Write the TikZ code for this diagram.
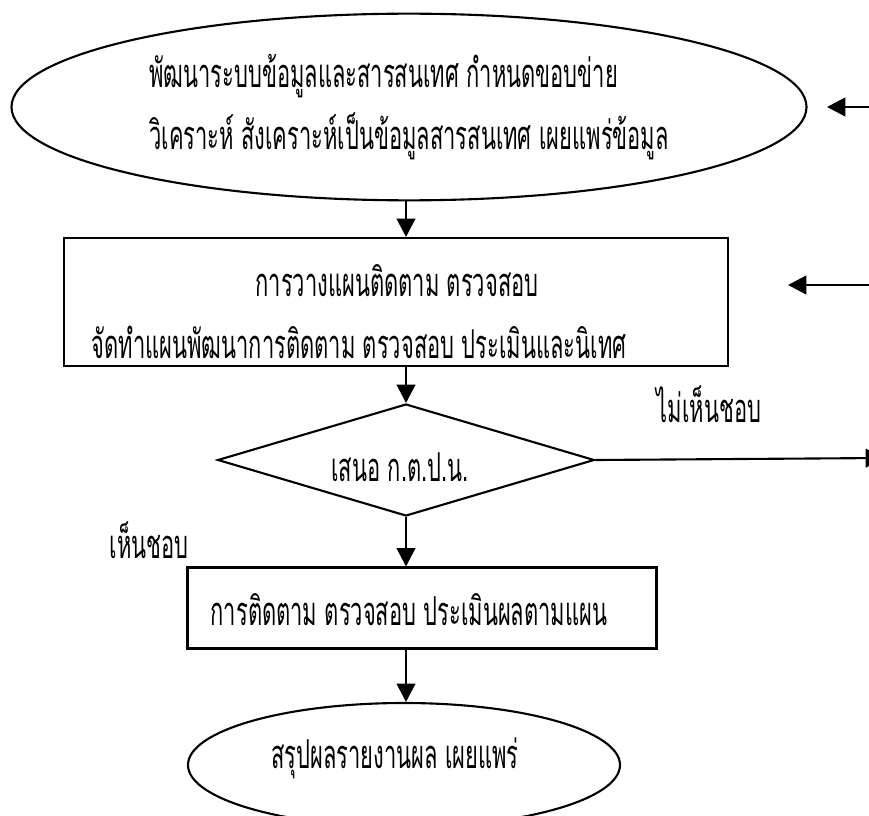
\documentclass[tikz,border=0pt]{standalone}
\usepackage{fontspec}
\newfontfamily\thaifont[Script=Thai,FakeStretch=0.55]{Loma}
\usetikzlibrary{shapes.geometric,arrows.meta}

\tikzset{
  flowline/.style={line width=1.8pt},
  flowarrow/.style={flowline,-{Triangle[length=5.5mm,width=5.6mm]}},
  thaitext/.style={font=\thaifont\fontsize{34}{53}\selectfont},
  terminal/.style={ellipse,draw,flowline,inner sep=0pt,thaitext},
  process/.style={rectangle,draw,flowline,inner sep=0pt,thaitext},
  decision/.style={diamond,draw,flowline,inner sep=0pt,aspect=3.36,thaitext}
}

\begin{document}
\begin{tikzpicture}[x=0.03cm,y=-0.03cm]
\useasboundingbox (0,0) rectangle (869,816);
\clip (0,0) rectangle (869,816);

% shapes
\node[terminal,minimum width=23.85cm,minimum height=5.6cm,align=left] (develop) at (409,107)
  {พัฒนาระบบข้อมูลและสารสนเทศ  กำหนดขอบข่าย\\วิเคราะห์ สังเคราะห์เป็นข้อมูลสารสนเทศ เผยแพร่ข้อมูล};
\node[process,minimum width=19.9cm,minimum height=3.84cm] (plan) at (396,302) {};
\node[thaitext] (plantitle) at (397,281) {การวางแผนติดตาม ตรวจสอบ};
\node[thaitext] (plantask) at (359,342) {จัดทำแผนพัฒนาการติดตาม ตรวจสอบ ประเมินและนิเทศ};
\node[decision,minimum width=11.3cm,minimum height=3.36cm] (propose) at (406,460) {};
\node[thaitext] (proposetext) at (400,467) {เสนอ ก.ต.ป.น.};
\node[process,minimum width=14.07cm,minimum height=2.43cm] (monitor) at (422,608) {};
\node[thaitext] (monitortext) at (409,610) {การติดตาม ตรวจสอบ ประเมินผลตามแผน};
\node[terminal,minimum width=12.96cm,minimum height=3.72cm] (report) at (404,765) {};
\node[thaitext] (reporttext) at (395,758) {สรุปผลรายงานผล เผยแพร่};

% labels
\node[thaitext] (reject) at (709,404) {ไม่เห็นชอบ};
\node[thaitext] (accept) at (149,540) {เห็นชอบ};

% free ends
\coordinate (inA) at (875,107);
\coordinate (inB) at (875,285);
\coordinate (outC) at (884,458);

% connectors
\draw[flowarrow] (propose.north |- develop.south) -- (propose.north |- plan.north);
\draw[flowarrow] (propose.north |- plan.south) -- (propose.north);
\draw[flowarrow] (propose.south) -- (propose.south |- monitor.north);
\draw[flowarrow] (propose.south |- monitor.south) -- (propose.south |- report.north);
\draw[flowarrow] (propose.east) -- (outC);
\draw[flowarrow] (inA) -- (827,107);
\draw[flowarrow] (inB) -- (788,285);
\end{tikzpicture}
\end{document}
